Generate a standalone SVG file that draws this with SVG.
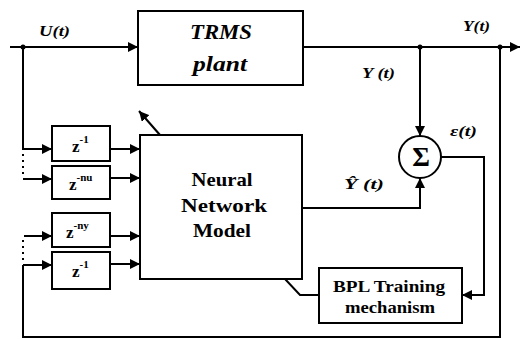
<svg xmlns="http://www.w3.org/2000/svg" width="521" height="339" viewBox="0 0 521 339">
<defs>
<marker id="ah" viewBox="0 0 10 10" refX="10" refY="5" markerWidth="10" markerHeight="10" markerUnits="userSpaceOnUse" orient="auto">
<path d="M0,0 L10,5 L0,10 Z" fill="#000"/>
</marker>
</defs>
<style>
.box{fill:#fff;stroke:#000;stroke-width:2}
.ln{fill:none;stroke:#000;stroke-width:2}
.arr{fill:none;stroke:#000;stroke-width:2;marker-end:url(#ah)}
text{font-family:'Liberation Serif','DejaVu Serif',serif;font-weight:bold;fill:#000}
.it{font-style:italic}
.dot{fill:#000}
</style>
<rect width="521" height="339" fill="#fff"/>
<g id="connectors">
<line class="arr" x1="10" y1="47" x2="138" y2="47"/>
<line class="arr" x1="303" y1="47" x2="520" y2="47"/>
<circle class="dot" cx="23" cy="47" r="2.5"/>
<circle class="dot" cx="420" cy="47" r="2.5"/>
<circle class="dot" cx="500" cy="47" r="2.5"/>
<line class="arr" x1="420" y1="47" x2="420" y2="136"/>
<polyline class="arr" points="302,208 420,208 420,178"/>
<polyline class="arr" points="441,157 484,157 484,295 462,295"/>
<polyline class="ln" points="500,47 500,337 23,337 23,265"/>
<line class="arr" x1="23" y1="265" x2="52" y2="265"/>
<polyline class="arr" points="23,47 23,149 52,149"/>
<line class="arr" x1="23" y1="179" x2="52" y2="179"/>
<line class="arr" x1="24" y1="236" x2="52" y2="236"/>
<line class="ln" x1="23" y1="154" x2="23" y2="175" stroke-dasharray="2,4"/>
<line class="ln" x1="23" y1="240" x2="23" y2="262" stroke-dasharray="2,4"/>
<line class="arr" x1="110" y1="149" x2="140" y2="149"/>
<line class="arr" x1="110" y1="178" x2="140" y2="178"/>
<line class="arr" x1="110" y1="236" x2="140" y2="236"/>
<line class="arr" x1="110" y1="264" x2="140" y2="264"/>
<line class="arr" x1="160" y1="135" x2="139" y2="111"/>
<polyline class="ln" points="285,279 300,295 319,295"/>
</g>
<g id="trms">
<rect class="box" x="138" y="11" width="165" height="74"/>
<text class="it" x="221" y="39" font-size="21" text-anchor="middle" textLength="62" lengthAdjust="spacingAndGlyphs">TRMS</text>
<text class="it" x="220" y="71" font-size="21" text-anchor="middle" textLength="54" lengthAdjust="spacingAndGlyphs">plant</text>
</g>
<g id="nn">
<rect class="box" x="140" y="135" width="162" height="144"/>
<text x="222" y="186" font-size="19" text-anchor="middle" textLength="61" lengthAdjust="spacingAndGlyphs">Neural</text>
<text x="224" y="212" font-size="19" text-anchor="middle" textLength="86" lengthAdjust="spacingAndGlyphs">Network</text>
<text x="222" y="237" font-size="19" text-anchor="middle" textLength="58" lengthAdjust="spacingAndGlyphs">Model</text>
</g>
<g id="z1">
<rect class="box" x="52" y="126" width="58" height="35"/>
<text x="72" y="152" font-size="17">z<tspan font-size="11" dy="-9">-1</tspan></text>
</g>
<g id="znu">
<rect class="box" x="52" y="166" width="58" height="33"/>
<text x="69" y="190" font-size="17">z<tspan font-size="11" dy="-9">-nu</tspan></text>
</g>
<g id="zny">
<rect class="box" x="52" y="213" width="58" height="34"/>
<text x="66" y="238" font-size="17">z<tspan font-size="11" dy="-9">-ny</tspan></text>
</g>
<g id="z1b">
<rect class="box" x="52" y="252" width="58" height="37"/>
<text x="72" y="277" font-size="17">z<tspan font-size="11" dy="-9">-1</tspan></text>
</g>
<g id="sum">
<circle class="box" cx="420" cy="157" r="21"/>
<text x="421" y="166" font-size="27" text-anchor="middle" font-weight="normal">Σ</text>
</g>
<g id="bpl">
<rect class="box" x="319" y="268" width="143" height="55"/>
<text x="389" y="292" font-size="16" text-anchor="middle" textLength="112" lengthAdjust="spacingAndGlyphs">BPL Training</text>
<text x="390" y="313" font-size="16" text-anchor="middle" textLength="90" lengthAdjust="spacingAndGlyphs">mechanism</text>
</g>
<g id="labels">
<text class="it" x="39" y="36" font-size="15" textLength="31" lengthAdjust="spacingAndGlyphs">U(t)</text>
<text class="it" x="463" y="31" font-size="15" textLength="27" lengthAdjust="spacingAndGlyphs">Y(t)</text>
<text class="it" x="362" y="78" font-size="15" textLength="33" lengthAdjust="spacingAndGlyphs">Y (t)</text>
<text class="it" x="450" y="136" font-size="15" textLength="27" lengthAdjust="spacingAndGlyphs">ε(t)</text>
<text class="it" x="344" y="189" font-size="15" textLength="40" lengthAdjust="spacingAndGlyphs">Ŷ (t)</text>
</g>
</svg>
